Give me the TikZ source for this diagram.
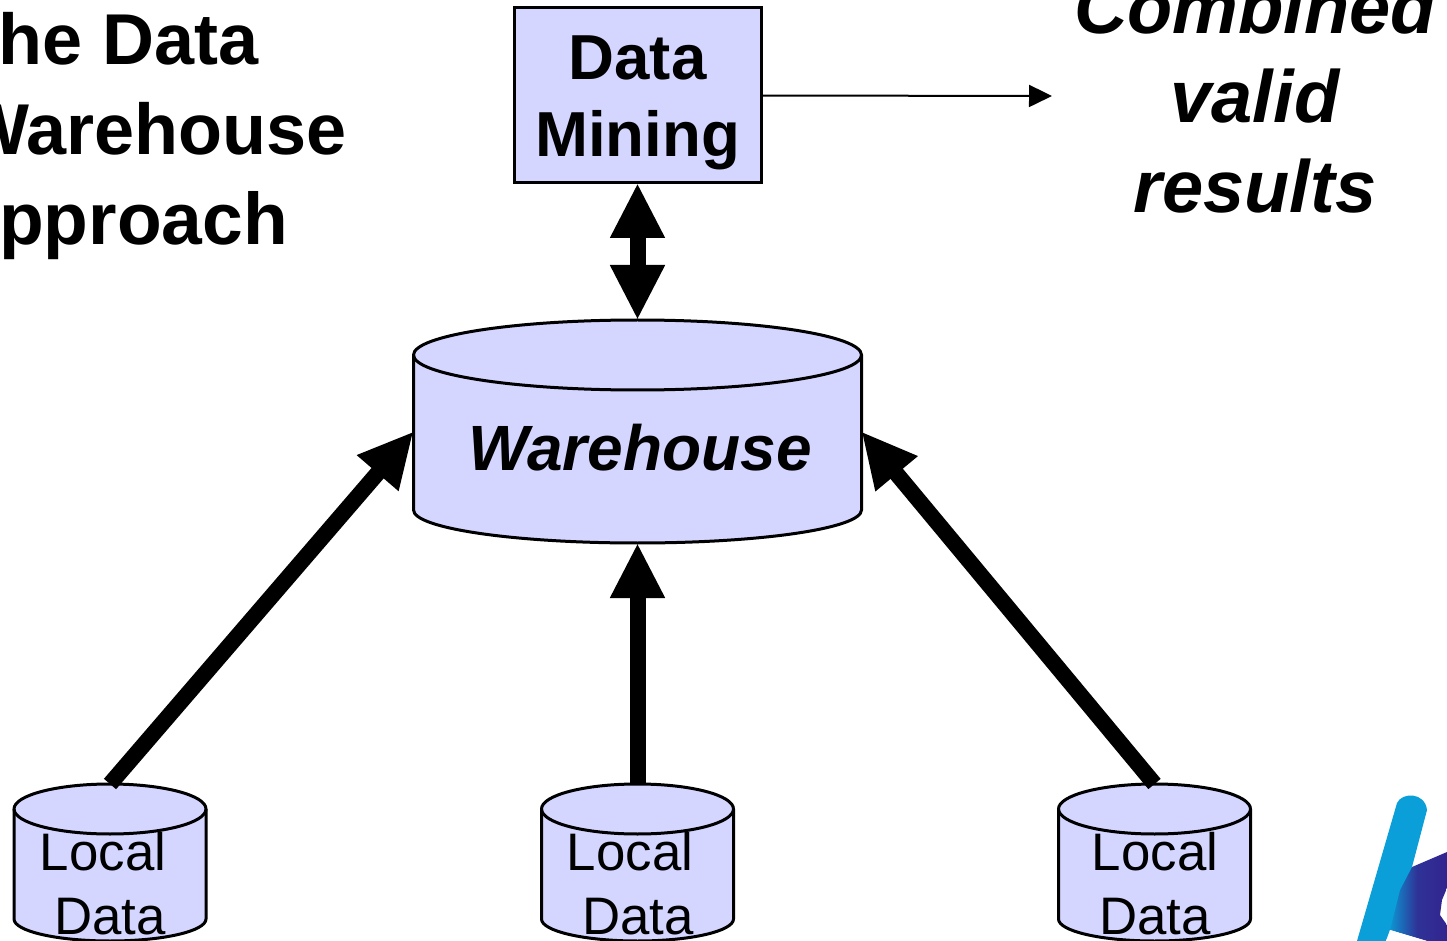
\documentclass[tikz,border=0pt]{standalone}
\usepackage{fontspec}
\setmainfont{Liberation Sans}
\usetikzlibrary{arrows.meta}
\definecolor{boxfill}{HTML}{D4D6FF}
\definecolor{logocyan}{HTML}{0A9FD8}
\definecolor{logonavy}{HTML}{33248F}
\tikzset{
  shapeline/.style={draw=black,line width=1.5pt,fill=boxfill},
  bigarrow/.style={line width=8pt,-{Triangle[width=25.5pt,length=27.5pt]}},
  bothways/.style={line width=8pt,{Triangle[width=25.5pt,length=27.5pt]}-{Triangle[width=25.5pt,length=27.5pt]}},
  thinarrow/.style={line width=1pt,-{Triangle[width=11pt,length=11.5pt]}},
  txt/.style={anchor=base,inner sep=0pt},
  titletxt/.style={anchor=base west,inner sep=0pt,font=\fontsize{36}{40}\selectfont\bfseries},
  resulttxt/.style={txt,font=\fontsize{37}{40}\selectfont\bfseries\itshape},
  boxtxt/.style={txt,font=\fontsize{31.8}{36}\selectfont\bfseries},
  localtxt/.style={txt,font=\fontsize{26.4}{30}\selectfont},
}
% name, centre x, top y, half width, top ry, bottom y, bottom ry (pixels)
\newcommand{\cylnode}[7]{%
  \pgfmathsetmacro{\cylmid}{(#3+#6)/2}%
  \pgfmathsetmacro{\cylh}{(#6-#3)/2}%
  \pgfmathsetmacro{\cylw}{#4}%
  \node[inner sep=0pt,outer sep=0pt,minimum width=\cylw pt,minimum height=\cylh pt] (#1) at (#2,\cylmid) {};
  \pgfmathsetmacro{\rxp}{#4/2}%
  \pgfmathsetmacro{\rytop}{#5/2}%
  \pgfmathsetmacro{\rybot}{#7/2}%
  \path[shapeline] ([yshift=-\rytop pt]#1.north west)
    arc[start angle=180,end angle=0,x radius=\rxp pt,y radius=\rytop pt]
    -- ([yshift=\rybot pt]#1.south east)
    arc[start angle=0,end angle=-180,x radius=\rxp pt,y radius=\rybot pt]
    -- cycle;
  \draw[line width=1.5pt] ([yshift=-\rytop pt]#1.north west)
    arc[start angle=180,end angle=360,x radius=\rxp pt,y radius=\rytop pt];
}
\begin{document}
\begin{tikzpicture}[x=0.5pt,y=-0.5pt]
\clip (0,0) rectangle (1447,941);
\fill[white] (0,0) rectangle (1447,941);

% logo
\shade[left color=logocyan,right color=logonavy,middle color=logonavy!88!logocyan]
  (1387,941) -- (1387,880) -- (1412,867) -- (1447,852) -- (1447,888) -- (1442,900) -- (1440,915) -- (1447,925) -- (1447,941) -- (1427,941) -- (1390,930) -- cycle;
\fill[logocyan] (1357,941) -- (1397,803) .. controls (1402,792) and (1425,792) .. (1427,810)
  -- (1412,867) -- (1400,890) -- (1390,930) -- (1386,941) -- cycle;
\fill[white] (1390,930) -- (1427,941) -- (1386,941) -- cycle;

% title
\node[titletxt] (t1) at (-46,65) {The Data};
\node[titletxt] (t2) at (-39,155) {Warehouse};
\node[titletxt,font=\fontsize{36.6}{40}\selectfont\bfseries] (t3) at (-54,245) {Approach};

% results
\node[resulttxt] (r1) at (1255,34) {Combined};
\node[resulttxt] (r2) at (1255,123) {valid};
\node[resulttxt] (r3) at (1255,213) {results};

% data mining box
\node[shapeline,inner sep=0pt,outer sep=0pt,minimum width=123.5pt,minimum height=87.5pt] (dm) at (637.5,95.5) {};
\node[boxtxt] (dm1) at (637.5,80) {Data};
\node[boxtxt] (dm2) at (637.5,157) {Mining};

% cylinders
\cylnode{wh}{637.5}{320}{224}{35}{543}{33}
\node[txt,font=\fontsize{32}{36}\selectfont\bfseries\itshape] (whl) at (640,471) {Warehouse};
\cylnode{la}{110}{784}{96}{25}{941}{22}
\cylnode{lb}{637.5}{784}{96}{25}{941}{22}
\cylnode{lc}{1154.5}{784}{96}{25}{941}{22}
\node[localtxt] (la1) at (103,870) {Local};
\node[localtxt] (la2) at (110,934) {Data};
\node[localtxt] (lb1) at (630,870) {Local};
\node[localtxt] (lb2) at (638,934) {Data};
\node[localtxt] (lc1) at (1155,870) {Local};
\node[localtxt] (lc2) at (1155,934) {Data};

% connectors
\draw[bothways] (dm.south) -- (wh.north);
\draw[bigarrow] (la.north) -- (wh.west);
\draw[bigarrow] (lb.north) -- (wh.south);
\draw[bigarrow] (lc.north) -- (wh.east);
\coordinate (resulttip) at (1052,96);
\draw[thinarrow] (dm.east) -- (resulttip);
\end{tikzpicture}
\end{document}
